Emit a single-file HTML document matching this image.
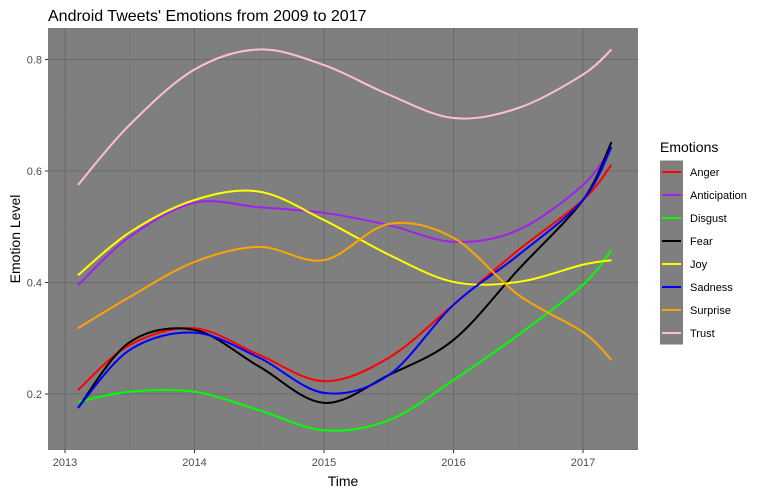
<!DOCTYPE html>
<html><head><meta charset="utf-8"><style>
body{margin:0;background:#fff;font-family:"Liberation Sans",sans-serif}
text{font-family:"Liberation Sans",sans-serif}
</style></head><body>
<svg id="c" width="767" height="495"></svg>
<script>
const years=[2013.1,2013.5,2014,2014.5,2015,2015.5,2016,2016.5,2017,2017.22];
const seriesNames=["Anger","Anticipation","Disgust","Fear","Joy","Sadness","Surprise","Trust"];
const seriesColors=["#ff0000","#a020f0","#00ff00","#000000","#ffff00","#0000ff","#ffa500","#ffc0cb"];
const anger=[0.207,0.288,0.318,0.27,0.223,0.265,0.36,0.458,0.548,0.611];
const anticipation=[0.395,0.482,0.543,0.535,0.525,0.503,0.473,0.494,0.575,0.642];
const disgust=[0.186,0.204,0.204,0.171,0.135,0.153,0.225,0.306,0.396,0.458];
const fear=[0.175,0.293,0.315,0.249,0.184,0.234,0.297,0.423,0.548,0.652];
const joy=[0.413,0.49,0.548,0.563,0.512,0.45,0.401,0.401,0.432,0.44];
const sadness=[0.175,0.279,0.31,0.265,0.202,0.234,0.36,0.449,0.548,0.643];
const surprise=[0.318,0.374,0.437,0.464,0.44,0.505,0.48,0.378,0.311,0.261];
const trust=[0.575,0.683,0.782,0.818,0.79,0.737,0.695,0.713,0.773,0.818];
const xTicks=[2013,2014,2015,2016,2017];
const yTicks=[0.2,0.4,0.6,0.8];
const yMinor=[0.1,0.3,0.5,0.7];
const allSeries=[anger,anticipation,disgust,fear,joy,sadness,surprise,trust];

const NS="http://www.w3.org/2000/svg",svg=document.getElementById('c');
const L=48,R=638,T=28,B=450;
const xs=v=>65+(v-2013)*129.5, ys=v=>394-(v-0.2)*557.5;
function el(t,a,p){const e=document.createElementNS(NS,t);for(const k in a)e.setAttribute(k,a[k]);(p||svg).appendChild(e);return e;}
const panel=el('rect',{x:L,y:T,width:R-L,height:B-T,fill:'#7f7f7f'});


for(let i=0;i<xTicks.length-1;i++){const g=el('line',{x1:xs(xTicks[i]+0.5),x2:xs(xTicks[i]+0.5),y1:T,y2:B,stroke:'#747474','stroke-width':0.6});

}
yMinor.forEach(v=>{const g=el('line',{x1:L,x2:R,y1:ys(v),y2:ys(v),stroke:'#747474','stroke-width':0.6});

});
xTicks.forEach(v=>{const g=el('line',{x1:xs(v),x2:xs(v),y1:T,y2:B,stroke:'#6b6b6b','stroke-width':1.1});


el('line',{x1:xs(v),x2:xs(v),y1:B,y2:B+3,stroke:'#333'});
const t=el('text',{x:xs(v),y:B+16,'text-anchor':'middle','font-size':11,fill:'#4d4d4d'});t.textContent=v;

});
yTicks.forEach(v=>{const g=el('line',{x1:L,x2:R,y1:ys(v),y2:ys(v),stroke:'#6b6b6b','stroke-width':1.1});


el('line',{x1:L-3,x2:L,y1:ys(v),y2:ys(v),stroke:'#333'});
const t=el('text',{x:L-6,y:ys(v)+4,'text-anchor':'end','font-size':11,fill:'#4d4d4d'});t.textContent=v.toFixed(1);

});
function path(vals){const p=years.map((y,i)=>[xs(y),ys(vals[i])]);let d=`M${p[0][0]},${p[0][1]}`;
for(let i=0;i<p.length-1;i++){const p0=p[i-1]||p[i],p1=p[i],p2=p[i+1],p3=p[i+2]||p2;
d+=` C${p1[0]+(p2[0]-p0[0])/6},${p1[1]+(p2[1]-p0[1])/6} ${p2[0]-(p3[0]-p1[0])/6},${p2[1]-(p3[1]-p1[1])/6} ${p2[0]},${p2[1]}`;}return d;}
allSeries.forEach((s,i)=>{const e=el('path',{d:path(s),fill:'none',stroke:seriesColors[i],'stroke-width':2});

});
function txt(x,y,s,a,name){const t=el('text',Object.assign({x:x,y:y},a));t.textContent=s;

return t;}
txt(48,21,"Android Tweets' Emotions from 2009 to 2017",{'font-size':16,fill:'#000'},'chart-title');
txt(343,486,'Time',{'font-size':14,'text-anchor':'middle',fill:'#000'},'x-axis-title');
txt(20,239,'Emotion Level',{'font-size':14,'text-anchor':'middle',fill:'#000',transform:'rotate(-90 20 239)'},'y-axis-title');
txt(660,152,'Emotions',{'font-size':14,fill:'#000'},'legend-title');
seriesNames.forEach((n,i)=>{const y=172+i*23;
const k=el('rect',{x:660,y:y-11.5,width:23,height:23,fill:'#7f7f7f'});


el('line',{x1:662,x2:681,y1:y,y2:y,stroke:seriesColors[i],'stroke-width':2});
txt(690,y+4,n,{'font-size':11,fill:'#000'},'legend-entry');});
</script>
</body></html>
